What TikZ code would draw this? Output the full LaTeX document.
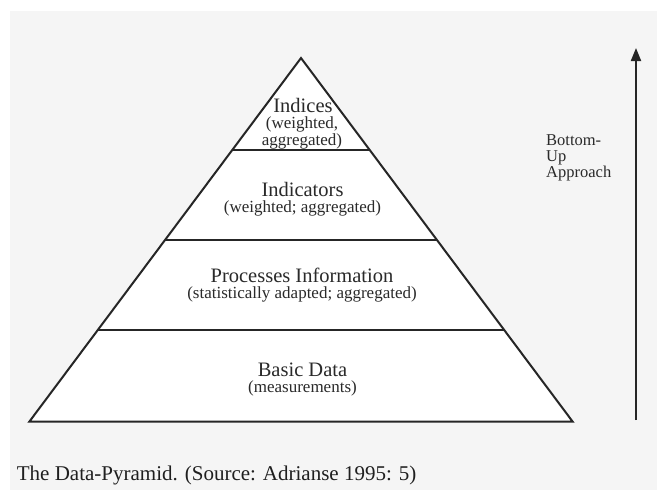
\documentclass[tikz,border=0pt]{standalone}
\usepackage{fontspec}
\setmainfont{Liberation Serif}
\usetikzlibrary{arrows.meta}
\definecolor{paper}{HTML}{F5F5F5}
\definecolor{ink}{HTML}{262626}
\definecolor{txt}{HTML}{2A2A2A}
\tikzset{
  layer/.style={draw=ink, line width=2pt, line join=miter},
  divider/.style={draw=ink, line width=1.8pt},
  title/.style={anchor=base, text=txt, inner sep=0pt, font=\fontsize{20.5}{24}\selectfont},
  sub/.style={anchor=base, text=txt, inner sep=0pt, font=\fontsize{17}{20}\selectfont},
  sidelabel/.style={anchor=base west, text=txt, inner sep=0pt, align=left,
    font=\fontsize{16.5}{16}\selectfont},
  caption/.style={anchor=base west, text=black!88, inner sep=0pt, font=\fontsize{21}{24}\selectfont},
  upflow/.style={draw=ink, line width=2pt, -{Triangle[length=13pt, width=10pt]}}
}
\begin{document}
\begin{tikzpicture}[x=1pt, y=-1pt]
  \useasboundingbox (0,0) rectangle (657,491);
  \fill[white] (0,0) rectangle (657,491);
  \fill[paper] (10,11) rectangle (657,490);

  % pyramid outline
  \coordinate (apex) at (301,58);
  \coordinate (bl) at (29.3,421.7);
  \coordinate (br) at (572.7,421.7);
  \fill[white] (apex) -- (br) -- (bl) -- cycle;

  % layer boundaries (half-width grows linearly from the apex)
  \coordinate (d1l) at (232.3,150);  \coordinate (d1r) at (369.7,150);
  \coordinate (d2l) at (164.9,240);  \coordinate (d2r) at (437.1,240);
  \coordinate (d3l) at (97.8,330);   \coordinate (d3r) at (504.2,330);
  \draw[divider] (d1l) -- (d1r);
  \draw[divider] (d2l) -- (d2r);
  \draw[divider] (d3l) -- (d3r);
  \draw[layer] (apex) -- (br) -- (bl) -- cycle;

  % layer labels
  \node[title] (indices) at (303,112.7) {Indices};
  \node[sub] (indicesA) at (302,128.5) {(weighted,};
  \node[sub] (indicesB) at (302,145) {aggregated)};

  \node[title] (indicators) at (302.5,196) {Indicators};
  \node[sub] (indicatorsA) at (302.5,212) {(weighted; aggregated)};

  \node[title] (process) at (302,282.7) {Processes Information};
  \node[sub] (processA) at (302,298.5) {(statistically adapted; aggregated)};

  \node[title] (basic) at (302.5,376.7) {Basic Data};
  \node[sub] (basicA) at (302.5,392.5) {(measurements)};

  % direction of aggregation
  \coordinate (flowfrom) at (636,420);
  \coordinate (flowto) at (636,48);
  \draw[upflow] (flowfrom) -- (flowto);
  \node[sidelabel] (approach) at (546,177.3) {Bottom-\\Up\\Approach};

  % caption
  \node[caption] (cap) at (16.7,480.7) {The Data-Pyramid. (Source: Adrianse 1995: 5)};
\end{tikzpicture}
\end{document}
